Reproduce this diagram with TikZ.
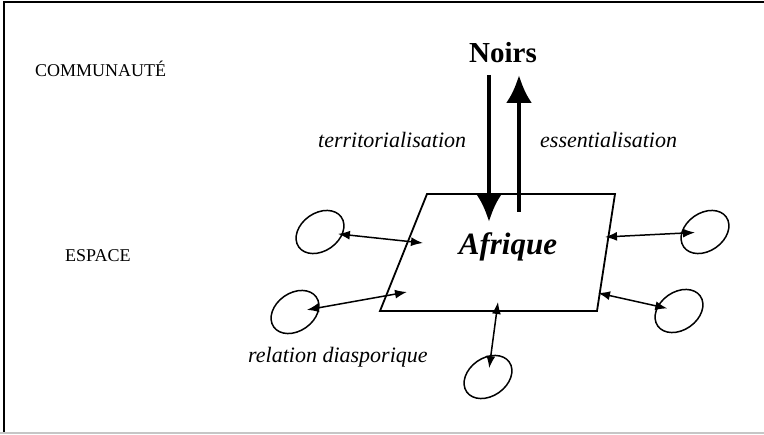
\documentclass[tikz,border=0pt]{standalone}
\usepackage{fontspec}
\setmainfont{Liberation Serif}
\usetikzlibrary{arrows.meta, positioning, shapes.geometric}

\tikzset{
  place/.style = {draw, ellipse, line width=1.5pt, minimum width=52pt, minimum height=38pt, inner sep=0pt, rotate=35},
  link/.style  = {draw, line width=1.5pt, {Latex[length=12pt,width=9pt]}-{Latex[length=12pt,width=9pt]}},
  flux/.style  = {draw, line width=4.5pt, -{Latex[length=28pt,width=26pt]}},
  level/.style = {font=\fontsize{18}{20}\selectfont, inner sep=0pt, anchor=base west},
  gloss/.style = {font=\fontsize{22}{24}\selectfont\itshape, inner sep=0pt, anchor=base west},
}

\begin{document}
\begin{tikzpicture}[x=1pt, y=-1pt]

\useasboundingbox (0,0) rectangle (764,435);
\draw [line width=1.6pt       ] (4,433) -- (4,2) -- (764,2);
\draw [line width=1.5pt, gray!45] (0,433) -- (764,433);

\node [level] (comm) at (35,77 ) {COMMUNAUTÉ};
\node [level] (esp ) at (65,262) {ESPACE};

\node [inner sep=0pt, anchor=base, font=\fontsize{29}{31}\selectfont\bfseries] (noirs) at (503,63) {Noirs};

\node [gloss] (terr) at (318,148) {territorialisation};
\node [gloss] (ess ) at (540,148) {essentialisation};
\node [gloss] (rel ) at (248,363) {relation diasporique};

% the continent
\coordinate (nw) at (427,194);
\coordinate (ne) at (615,194);
\coordinate (se) at (597,311);
\coordinate (sw) at (380,311);
\draw [line width=1.8pt] (nw) -- (ne) -- (se) -- (sw) -- cycle;

\node [inner sep=0pt, anchor=base, font=\fontsize{31}{33}\selectfont\bfseries\itshape] (afr) at (508,255) {Afrique};

% descent / ascent
\coordinate (d0) at (489,75 );
\coordinate (d1) at (489,222);
\coordinate (u0) at (519,212);
\coordinate (u1) at (519,75 );
\path [flux] (d0) -- (d1);
\path [flux] (u0) -- (u1);

% diaspora
\node [place] (e1) at (320,232) {};
\node [place] (e2) at (295,312) {};
\node [place] (e3) at (488,377) {};
\node [place] (e4) at (705,232) {};
\node [place] (e5) at (679,311) {};

\coordinate (i1) at (423,243);
\coordinate (i2) at (407,292);
\coordinate (i3) at (498,302);
\coordinate (i4) at (605,237);
\coordinate (i5) at (598,293);

\path [link, shorten <=18pt] (e1.center) -- (i1);
\path [link, shorten <=12pt] (e2.center) -- (i2);
\path [link, shorten <=9pt ] (e3.center) -- (i3);
\path [link, shorten <=10pt] (e4.center) -- (i4);
\path [link, shorten <=12pt] (e5.center) -- (i5);

\end{tikzpicture}
\end{document}
